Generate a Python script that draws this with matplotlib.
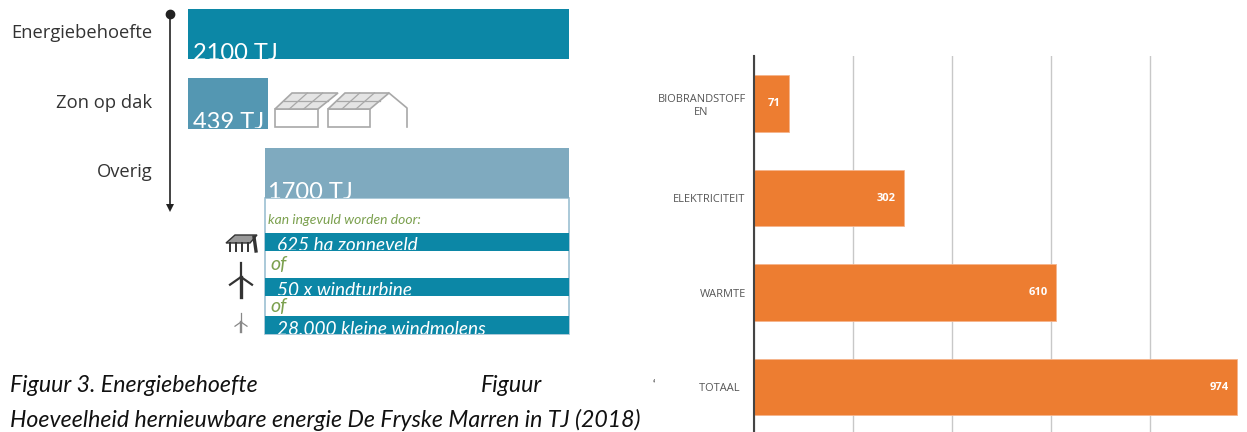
import matplotlib
matplotlib.use("Agg")
import matplotlib.pyplot as plt
from matplotlib.patches import Rectangle, Polygon
from matplotlib.transforms import Bbox, TransformedBbox

W, H = 1247, 432

# Data ---------------------------------------------------------------
need_labels = ["Energiebehoefte", "Zon op dak"]
need_values = [2100, 439]
rest_label = "Overig"
rest_value = 1700
unit = "TJ"
option_labels = ["625 ha zonneveld", "50 x windturbine", "28.000 kleine windmolens"]
renew_labels = ["BIOBRANDSTOFF\nEN", "ELEKTRICITEIT", "WARMTE", "TOTAAL  "]
renew_values = [71, 302, 610, 974]
grid_ticks = [0, 200, 400, 600, 800]

DARK, MID, LIGHT = "#0c87a6", "#5497b2", "#7faabf"
ORANGE, GREEN = "#ed7d31", "#7ba04e"
BODY = "Open Sans"
ITAL = "Lato"

fig = plt.figure(figsize=(W / 100, H / 100), dpi=100, facecolor="white")


def px_axes(x0, y0, x1, y1, **kw):
    """Axes whose box is given in reference pixels (y from the top)."""
    ax = fig.add_axes([x0 / W, 1 - y1 / H, (x1 - x0) / W, (y1 - y0) / H], **kw)
    ax.patch.set_alpha(0)
    return ax


def clipped_text(ax, x, y, s, box, **kw):
    """Text cut off by the lower edge of its band, as in the reference."""
    t = ax.text(x, y, s, clip_on=True, **kw)
    t.set_clip_box(TransformedBbox(Bbox(box), ax.transData))
    return t


# Overlay in pixel units for furniture ---------------------------------
ov = px_axes(0, 0, W, H)
ov.set_xlim(0, W)
ov.set_ylim(H, 0)
ov.axis("off")
ov.set_zorder(5)

# Left chart: need ------------------------------------------------------
ax = px_axes(188, 34 - 0.4 * 69.5, 569, 34 + 1.5 * 69.5)
ax.set_xlim(0, 2100)
ax.set_ylim(1.5, -0.4)
ax.axis("off")
need_bars = ax.barh(range(2), need_values, height=0.72, color=[DARK, MID])
for i, (v, b) in enumerate(zip(need_values, need_bars)):
    clipped_text(ov, 193, 60 + 69 * i, f"{v} {unit}", [[188, 0], [569, 59 + 69 * i]],
                 color="white", fontsize=17, family=ITAL, va="baseline", ha="left")
for i, lab in enumerate(need_labels):
    ov.text(152, 33 + 69.5 * i, lab, ha="right", va="center", fontsize=13.2,
            family=BODY, color="#333333")
ov.text(152, 172, rest_label, ha="right", va="center", fontsize=13.2, family=BODY,
        color="#333333")

# Left chart: remainder -------------------------------------------------
rx = px_axes(265, 148, 569, 334)
rx.set_xlim(0, rest_value)
rx.set_ylim(186, 0)
rx.axis("off")
rx.add_patch(Rectangle((0, 50), rest_value, 136, fc="white", ec="#9cc0d2", lw=1.2, clip_on=False))
rx.barh([25], [rest_value], height=50, color=LIGHT)
for top in (85, 130, 168):
    rx.barh([top + 9], [rest_value], height=18, color=DARK)

clipped_text(ov, 268, 199, f"{rest_value} {unit}", [[265, 148], [569, 198]], color="white",
             fontsize=17, family=ITAL, va="baseline")
ov.text(268, 220, "kan ingevuld worden door:", color=GREEN, fontsize=10, family=ITAL,
        style="italic", va="center")
for lab, base, bot in zip(option_labels, (251, 296, 335), (250, 295, 334)):
    clipped_text(ov, 277, base, lab, [[265, 200], [569, bot]], color="white", fontsize=13.7,
                 family=ITAL, style="italic", va="baseline")
for y in (265, 307):
    ov.text(270, y, "of", color=GREEN, fontsize=14, family=ITAL, style="italic", va="center")

# Timeline arrow
ov.plot([170, 170], [14, 208], color="#222222", lw=1.2)
ov.plot([170], [14], "o", color="#222222", ms=6)
ov.add_patch(Polygon([[166, 204], [174, 204], [170, 212]], fc="#222222", ec="none"))

# Roof icons
GREY = "#a8a8a8"
for xa, xb, rx0, rx1 in ((275, 318, 292, 338), (328, 370, 345, 389)):
    ov.add_patch(Rectangle((xa, 109), xb - xa, 18, fc="white", ec=GREY, lw=1.2))
    ov.add_patch(Polygon([[xa, 109], [rx0, 93], [rx1, 93], [xb, 109]], fc="#e4e4e4", ec=GREY, lw=1.2))
    ov.plot([(xa + rx0) / 2, (xb + rx1) / 2], [101, 101], color=GREY, lw=0.9)
    for f in (1 / 3, 2 / 3):
        ov.plot([xa + (xb - xa) * f, rx0 + (rx1 - rx0) * f], [109, 93], color=GREY, lw=0.9)
ov.plot([389, 407, 407], [93, 108, 127], color=GREY, lw=1.2)

# Solar-field icon
ICON = "#333333"
ov.add_patch(Polygon([[226, 243], [235, 235], [257, 235], [250, 243]], fc="#999999", ec=ICON, lw=1))
for x in (230, 236, 242, 248):
    ov.plot([x, x], [243, 251], color=ICON, lw=1.4)
ov.plot([254, 256], [237, 251], color=ICON, lw=2.4)


# Turbine icons
def turbine(x, top, hub, bottom, half, color, lw):
    ov.plot([x, x], [hub, bottom], color=color, lw=lw + 0.8)
    ov.plot([x, x], [top, hub], color=color, lw=lw)
    ov.plot([x - half, x, x + half], [hub + half * 0.7, hub, hub + half * 0.7], color=color, lw=lw)


turbine(241, 263, 277, 297, 11, "#333333", 1.6)
turbine(241, 313, 322, 332, 6, "#888888", 0.9)

# Captions
cap = dict(fontsize=16.7, family=ITAL, style="italic", color="#111111", va="center")
ov.text(10, 385, "Figuur 3. Energiebehoefte", **cap)
ov.text(481, 385, "Figuur", **cap)
ov.text(652, 385, "‘", fontsize=8, color="#111111", family=ITAL, va="center")
ov.text(10, 420, "Hoeveelheid hernieuwbare energie De Fryske Marren in TJ (2018)", **cap)

# Right chart -----------------------------------------------------------
bx = px_axes(754, 56, 754 + 495.5, 432)
bx.set_xlim(0, 1000)
bx.set_ylim((432 - 103.5) / 94.5, (56 - 103.5) / 94.5)
bars = bx.barh(range(len(renew_values)), renew_values, height=0.6, color=ORANGE,
               edgecolor="#f6b48c", linewidth=0.6, zorder=3)
bx.set_xticks(grid_ticks)
bx.set_xticklabels([])
bx.set_yticks(range(len(renew_labels)))
bx.set_yticklabels(renew_labels, fontsize=7.9, family=BODY, color="#555555", multialignment="center")
bx.tick_params(length=0, pad=6)
bx.grid(axis="x", color="#c8c8c8", lw=1)
bx.set_axisbelow(True)
for s in ("top", "right", "bottom"):
    bx.spines[s].set_visible(False)
bx.spines["left"].set_color("#444444")
bx.spines["left"].set_linewidth(1.5)
bx.spines["left"].set_zorder(4)
for i, v in enumerate(renew_values):
    bx.annotate(str(v), (v, i), xytext=(-6, 0), textcoords="offset points", ha="right",
                va="center", color="white", fontsize=8, fontweight="bold", family=BODY, zorder=5)

fig.savefig("out.png", dpi=100)
